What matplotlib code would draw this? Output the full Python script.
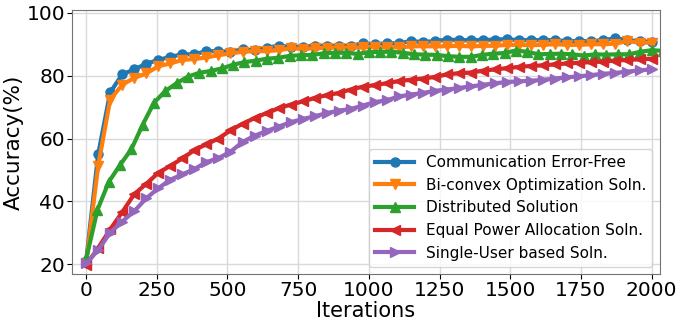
import matplotlib
matplotlib.use("Agg")
import matplotlib.pyplot as plt
import numpy as np

# iteration grid (48 logged points for most curves, 52 for the distributed one)
ITERS = np.linspace(0, 2000, 48)
ITERS_DIST = np.arange(0, 2041, 40)

error_free = [21.0, 55.0, 74.7, 80.4, 82.0, 83.8, 85.0, 86.0, 86.8, 86.8, 87.8, 87.8,
              87.6, 88.4, 88.1, 88.9, 89.5, 89.2, 89.2, 89.5, 89.5, 89.5, 89.5, 90.3,
              90.0, 90.3, 90.3, 91.0, 90.7, 91.0, 91.5, 91.3, 91.3, 91.3, 91.5, 91.6,
              91.3, 91.3, 91.3, 91.3, 91.0, 91.0, 91.0, 91.3, 91.9, 91.3, 91.0, 90.8]
biconvex = [20.3, 51.3, 72.4, 77.1, 79.3, 80.7, 83.0, 83.9, 85.0, 85.3, 85.8, 86.5,
            87.1, 87.6, 87.8, 87.8, 88.1, 88.7, 88.5, 88.7, 88.9, 88.9, 88.9, 89.0,
            89.2, 89.0, 89.0, 89.3, 89.4, 89.3, 89.4, 89.5, 89.3, 89.5, 89.5, 89.8,
            89.8, 89.7, 89.8, 90.0, 89.8, 89.8, 90.0, 90.0, 90.2, 91.0, 90.5, 90.5]
distributed = [21.6, 37.3, 46.2, 51.6, 56.6, 64.4, 71.4, 75.1, 77.6, 79.7, 80.9, 81.5,
               82.3, 83.5, 84.3, 84.8, 85.4, 85.7, 86.3, 86.5, 86.6, 87.1, 87.3, 87.3,
               86.9, 87.5, 87.6, 87.6, 87.3, 86.8, 86.7, 86.6, 86.2, 86.0, 86.0, 86.6,
               87.0, 87.2, 88.0, 87.6, 86.8, 86.9, 87.0, 86.8, 86.4, 86.8, 86.7, 86.8,
               86.8, 87.6, 88.1, 87.9]
equal_power = [19.8, 25.2, 31.1, 36.6, 42.3, 45.6, 49.1, 51.3, 53.7, 56.3, 58.2, 60.0,
               62.6, 64.7, 66.5, 68.1, 69.6, 70.8, 71.8, 72.9, 73.8, 74.5, 75.6, 76.5,
               77.0, 77.6, 78.3, 78.7, 79.1, 79.6, 80.4, 80.8, 81.0, 81.6, 82.0, 82.4,
               82.8, 83.1, 83.3, 83.6, 83.9, 84.1, 84.3, 84.5, 84.8, 85.0, 85.2, 85.4]
single_user = [20.3, 24.5, 30.1, 33.6, 36.9, 41.0, 44.2, 46.9, 48.6, 50.3, 52.5, 53.8,
               55.8, 58.9, 60.9, 62.4, 63.8, 65.2, 66.2, 67.1, 68.1, 68.9, 69.4, 70.5,
               71.6, 72.2, 73.4, 74.0, 74.5, 75.2, 75.6, 76.1, 76.6, 77.1, 77.6, 78.0,
               78.2, 78.4, 78.7, 79.1, 79.5, 79.8, 80.2, 80.6, 80.9, 81.3, 81.7, 82.0]

series = [
    (ITERS, error_free, "o", "Communication Error-Free"),
    (ITERS, biconvex, "v", "Bi-convex Optimization Soln."),
    (ITERS_DIST, distributed, "^", "Distributed Solution"),
    (ITERS, equal_power, "<", "Equal Power Allocation Soln."),
    (ITERS, single_user, ">", "Single-User based Soln."),
]

fig = plt.figure(figsize=(6.78, 3.22), dpi=100)
ax = fig.add_axes([0.1062, 0.148, 0.8673, 0.821])
for i, (x, y, mk, lab) in enumerate(series):
    ax.plot(x, y, marker=mk, color=f"C{i}", lw=3, ms=6.5, label=lab)

ax.set_xlim(-50, 2030)
ax.set_ylim(16.8, 100.9)
ax.set_xticks([0, 250, 500, 750, 1000, 1250, 1500, 1750, 2000])
ax.set_yticks([20, 40, 60, 80, 100])
ax.tick_params(labelsize=14.5, pad=1.5)
ax.grid(True, color="#d9d9d9", lw=1)
for s in ax.spines.values():
    s.set_color("0.45")
ax.set_xlabel("Iterations", fontsize=15, labelpad=0.5)
ax.set_ylabel("Accuracy(%)", fontsize=15.5, labelpad=2)
ax.legend(loc="lower right", fontsize=11, handlelength=2.5)

fig.savefig("out.png", dpi=100)
